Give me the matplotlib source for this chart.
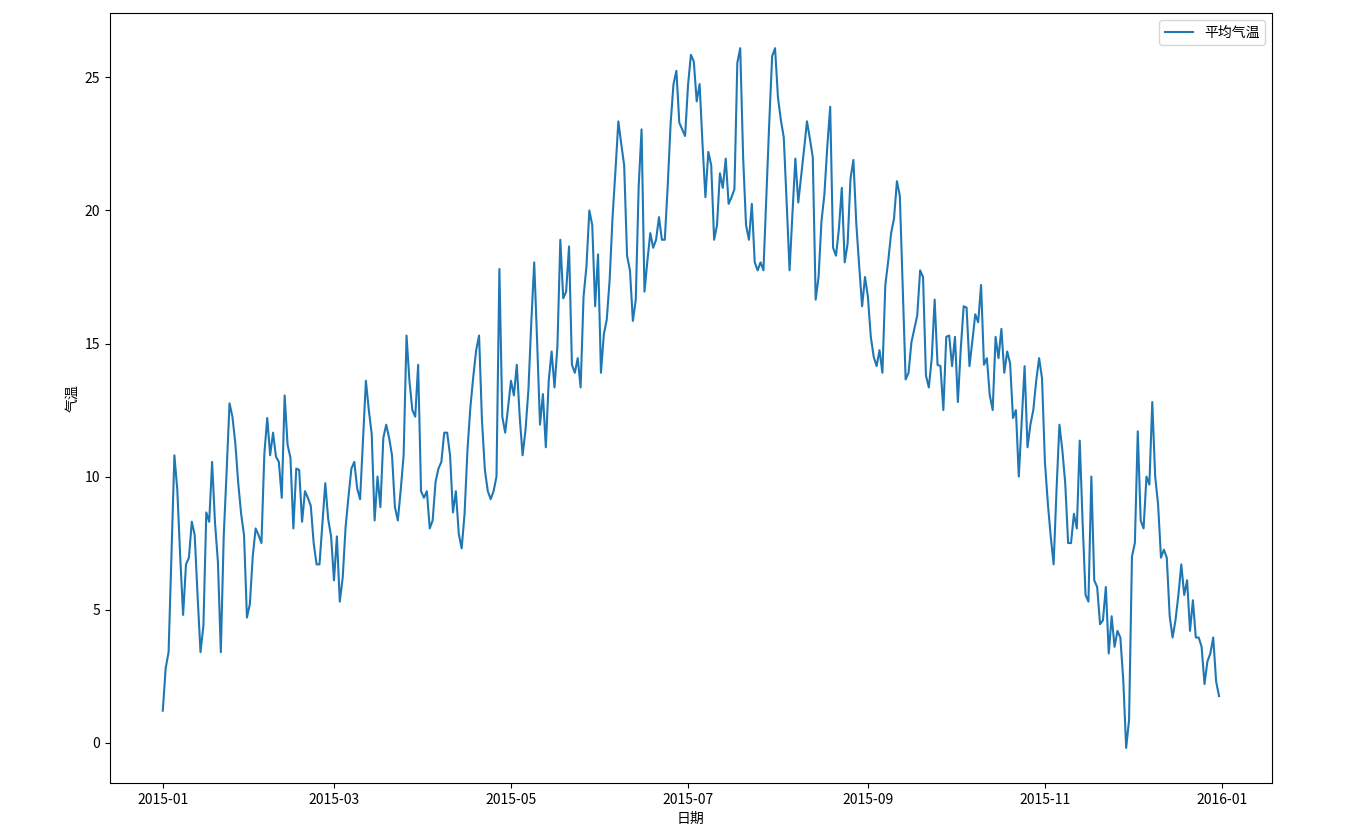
import numpy as np
import pandas as pd
import matplotlib
matplotlib.use("Agg")
import matplotlib.pyplot as plt

plt.rcParams['font.family'] = ['Noto Sans CJK SC', 'DejaVu Sans']
plt.rcParams['axes.unicode_minus'] = False

# 2015 年每日平均气温 (按月)
jan = [1.2, 2.8, 3.4, 7.1, 10.8, 9.5, 7.0, 4.8, 6.7, 6.95, 8.3, 7.8, 5.5, 3.4, 4.4, 8.65,
       8.3, 10.55, 8.25, 6.8, 3.4, 7.75, 10.2, 12.75, 12.25, 11.25, 9.75, 8.6, 7.8, 4.7, 5.2]
feb = [7.0, 8.05, 7.8, 7.5, 10.85, 12.2, 10.8, 11.65, 10.75, 10.55, 9.2, 13.05, 11.2, 10.7,
       8.05, 10.3, 10.25, 8.3, 9.45, 9.2, 8.9, 7.5, 6.7, 6.7, 8.25, 9.75, 8.4, 7.75]
mar = [6.1, 7.75, 5.3, 6.2, 8.1, 9.25, 10.3, 10.55, 9.55, 9.15, 11.35, 13.6, 12.5, 11.6, 8.35,
       10.0, 8.85, 11.45, 11.95, 11.45, 10.8, 8.85, 8.35, 9.5, 10.8, 15.3, 13.6, 12.5, 12.25,
       14.2, 9.45]
apr = [9.2, 9.45, 8.05, 8.35, 9.8, 10.3, 10.55, 11.65, 11.65, 10.8, 8.65, 9.45, 7.85, 7.3, 8.6,
       11.0, 12.6, 13.75, 14.75, 15.3, 12.1, 10.25, 9.45, 9.15, 9.45, 10.0, 17.8, 12.25, 11.65,
       12.6]
may = [13.6, 13.05, 14.2, 12.25, 10.8, 11.75, 13.25, 15.8, 18.05, 15.1, 11.95, 13.1, 11.1, 13.6,
       14.7, 13.35, 14.9, 18.9, 16.7, 16.95, 18.65, 14.2, 13.9, 14.45, 13.35, 16.75, 17.9, 20.0,
       19.45, 16.4, 18.35]
jun = [13.9, 15.35, 15.9, 17.4, 19.75, 21.5, 23.35, 22.5, 21.7, 18.3, 17.75, 15.85, 16.65, 20.9,
       23.05, 16.95, 18.1, 19.15, 18.6, 18.9, 19.75, 18.9, 18.9, 20.9, 23.25, 24.75, 25.25, 23.3,
       23.05, 22.8]
jul = [24.7, 25.85, 25.6, 24.1, 24.75, 22.5, 20.5, 22.2, 21.7, 18.9, 19.45, 21.4, 20.85, 21.95,
       20.25, 20.5, 20.8, 25.55, 26.1, 22.0, 19.45, 18.9, 20.25, 18.05, 17.75, 18.05, 17.75, 20.5,
       23.3, 25.8, 26.1]
aug = [24.25, 23.4, 22.75, 20.3, 17.75, 19.9, 21.95, 20.3, 21.3, 22.3, 23.35, 22.7, 22.0, 16.65,
       17.5, 19.6, 20.6, 22.4, 23.9, 18.6, 18.3, 19.3, 20.85, 18.05, 18.75, 21.2, 21.9, 19.5,
       17.9, 16.4, 17.5]
sep = [16.75, 15.25, 14.5, 14.15, 14.75, 13.9, 17.2, 18.1, 19.15, 19.7, 21.1, 20.55, 17.1, 13.65,
       13.9, 15.05, 15.55, 16.05, 17.75, 17.5, 13.8, 13.35, 14.45, 16.65, 14.2, 14.15, 12.5,
       15.25, 15.3, 14.15]
oct_ = [15.25, 12.8, 14.8, 16.4, 16.35, 14.15, 15.1, 16.1, 15.8, 17.2, 14.2, 14.45, 13.05, 12.5,
        15.25, 14.45, 15.55, 13.9, 14.7, 14.25, 12.2, 12.5, 10.0, 12.1, 14.15, 11.1, 11.95, 12.5,
        13.6, 14.45, 13.7]
nov = [10.55, 9.0, 7.75, 6.7, 9.5, 11.95, 11.0, 9.75, 7.5, 7.5, 8.6, 8.05, 11.35, 8.25, 5.55,
       5.3, 10.0, 6.1, 5.85, 4.45, 4.6, 5.85, 3.35, 4.75, 3.6, 4.2, 3.95, 2.35, -0.2, 0.85]
dec = [7.0, 7.5, 11.7, 8.35, 8.05, 10.0, 9.7, 12.8, 10.0, 8.95, 6.95, 7.25, 6.95, 4.75, 3.95,
       4.6, 5.55, 6.7, 5.55, 6.1, 4.2, 5.35, 3.95, 3.95, 3.6, 2.2, 3.05, 3.35, 3.95, 2.3, 1.75]

wendu = jan + feb + mar + apr + may + jun + jul + aug + sep + oct_ + nov + dec
riqi = pd.date_range("2015-01-01", "2015-12-31", freq="D")
df = pd.DataFrame({"日期": riqi, "平均气温": wendu})

fig = plt.figure(figsize=(13.51, 8.25), dpi=100)
ax = fig.add_axes([0.0814, 0.051, 0.86, 0.933])
ax.plot(df["日期"], df["平均气温"], label="平均气温")
ax.set_xlabel("日期")
ax.set_ylabel("气温")
ax.legend(loc="upper right")

fig.savefig("out.png", dpi=100)
